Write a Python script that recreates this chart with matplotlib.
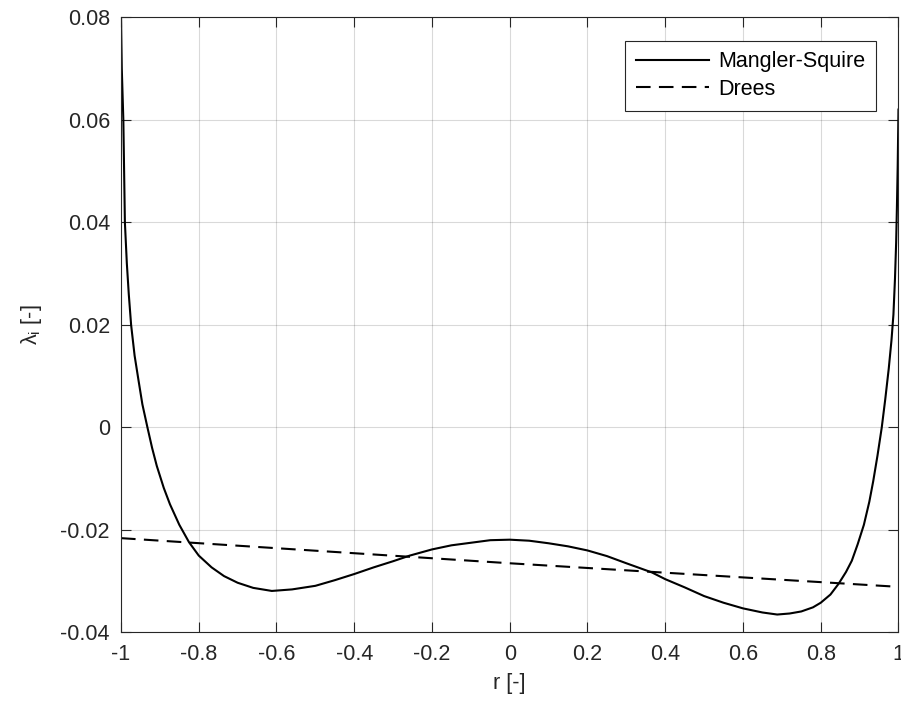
import matplotlib
matplotlib.use('Agg')
import matplotlib.pyplot as plt
import numpy as np

plt.rcParams['font.family'] = ['Liberation Sans', 'DejaVu Sans']

# Mangler-Squire induced inflow
r_ms = [-1.000, -0.998, -0.994, -0.992, -0.990, -0.985, -0.980, -0.974,
        -0.965, -0.955, -0.945, -0.932, -0.920, -0.908, -0.890, -0.874,
        -0.850, -0.825, -0.800, -0.767, -0.735, -0.700, -0.660, -0.612,
        -0.560, -0.500, -0.450, -0.400, -0.350, -0.300, -0.257, -0.200,
        -0.150, -0.100, -0.050, 0.000, 0.050, 0.100, 0.150, 0.200,
        0.250, 0.300, 0.366, 0.400, 0.450, 0.500, 0.550, 0.600,
        0.650, 0.688, 0.720, 0.750, 0.780, 0.800, 0.825, 0.846,
        0.865, 0.880, 0.895, 0.911, 0.925, 0.935, 0.946, 0.957,
        0.966, 0.975, 0.982, 0.987, 0.991, 0.994, 0.996, 0.998, 1.000]
lam_ms = [0.0800, 0.0700, 0.0600, 0.0500, 0.0400, 0.0320, 0.0260, 0.0200,
          0.0140, 0.0092, 0.0045, 0.0000, -0.0040, -0.0075, -0.0118, -0.0150,
          -0.0190, -0.0224, -0.0250, -0.0273, -0.0290, -0.0303, -0.0313, -0.0319,
          -0.0316, -0.0309, -0.0298, -0.0286, -0.0273, -0.0261, -0.0250, -0.0238,
          -0.0230, -0.0225, -0.0220, -0.0219, -0.0221, -0.0226, -0.0232, -0.0240,
          -0.0251, -0.0265, -0.0283, -0.0296, -0.0312, -0.0329, -0.0342, -0.0353,
          -0.0361, -0.0365, -0.0363, -0.0359, -0.0351, -0.0342, -0.0326, -0.0305,
          -0.0282, -0.0260, -0.0228, -0.0190, -0.0145, -0.0105, -0.0055, 0.0000,
          0.0055, 0.0115, 0.0170, 0.0220, 0.0290, 0.0360, 0.0430, 0.0510, 0.0620]

# Drees linear inflow
r_dr = [-1.0, 0.0, 1.0]
lam_dr = [-0.0216, -0.0265, -0.0311]

xticks = [-1, -0.8, -0.6, -0.4, -0.2, 0, 0.2, 0.4, 0.6, 0.8, 1]
xtick_labels = ['-1', '-0.8', '-0.6', '-0.4', '-0.2', '0', '0.2', '0.4', '0.6', '0.8', '1']
yticks = [-0.04, -0.02, 0, 0.02, 0.04, 0.06, 0.08]
ytick_labels = ['-0.04', '-0.02', '0', '0.02', '0.04', '0.06', '0.08']

fig = plt.figure(figsize=(9.01, 7.12), dpi=100)
ax = fig.add_axes([0.1343, 0.1117, 0.8629, 0.864])

ax.plot(r_ms, lam_ms, color='k', lw=1.5, label='Mangler-Squire')
ax.plot(r_dr, lam_dr, color='k', lw=1.5, dashes=(7, 4), label='Drees')

ax.set_xlim(-1, 1)
ax.set_ylim(-0.04, 0.08)
ax.set_xticks(xticks)
ax.set_xticklabels(xtick_labels)
ax.set_yticks(yticks)
ax.set_yticklabels(ytick_labels)

txt = (0.15, 0.15, 0.15)
ax.tick_params(direction='in', length=7, width=0.8, top=True, right=True,
               labelsize=15.5, colors=txt, pad=8)
for s in ax.spines.values():
    s.set_color(txt)
    s.set_linewidth(0.8)
ax.grid(True, color='k', alpha=0.15, lw=0.8)

ax.set_xlabel('r [-]', fontsize=15.5, color=txt, labelpad=6)
ax.set_ylabel(r'λ$_\mathregular{i}$ [-]', fontsize=15.5, color=txt, labelpad=12)

leg = ax.legend(loc='upper right', bbox_to_anchor=(0.9707, 0.962), borderaxespad=0,
                fontsize=15.5, handlelength=3.4, handletextpad=0.4, labelspacing=0.3,
                fancybox=False, framealpha=1, borderpad=0.5)
leg.get_frame().set_edgecolor(txt)
leg.get_frame().set_linewidth(0.8)

fig.savefig('out.png', dpi=100)
